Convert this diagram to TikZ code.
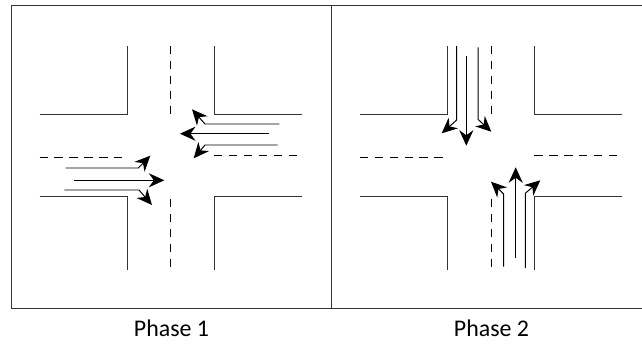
\documentclass[tikz,border=0pt]{standalone}
\usepackage{fontspec}
\setmainfont{Carlito}
\usepackage{tikz}
\usetikzlibrary{arrows.meta}
\tikzset{
road/.style={line width=0.7pt,draw=black!80},
lane/.style={line width=0.7pt,dash pattern=on 6pt off 4.6pt},
flow/.style={line width=0.7pt,-{Stealth[length=11pt,width=10pt]}},
phaselabel/.style={anchor=base,font=\fontsize{17}{20}\selectfont}
}
\begin{document}
\begin{tikzpicture}[x=0.025cm,y=-0.025cm]
\useasboundingbox (0,0) rectangle (642,343);
\draw[road] (642,5) -- (11,5) -- (11,308) -- (642,308);
\draw[road] (331,5) -- (331,308);
\begin{scope}
\draw[road] (39.5,114.3) -- (127,114.3) -- (127,46);
\draw[road] (302,114.3) -- (214.3,114.3) -- (214.3,46);
\draw[road] (39.5,196.7) -- (127,196.7) -- (127,269.7);
\draw[road] (302,196.7) -- (214.3,196.7) -- (214.3,269.7);
\draw[lane] (170.7,46) -- (170.7,114);
\draw[lane] (170.7,199) -- (170.7,267);
\draw[lane] (39.5,157.7) -- (125.7,157.7);
\draw[lane] (214,155.7) -- (299,155.7);
\draw[flow] (65.7,168) -- (138.3,168) -- (150.3,155.7);
\draw[flow] (74.3,180.3) -- (164.3,180.3);
\draw[flow] (64.3,190) -- (139,190) -- (152,205);
\draw[flow] (279.3,124) -- (205,124) -- (192,109.3);
\draw[flow] (269,133.7) -- (180,133.7);
\draw[flow] (277.7,145) -- (205,145) -- (193.7,158.3);
\end{scope}
\begin{scope}[shift={(320.3,0)}]
\draw[road] (39.5,114.3) -- (127,114.3) -- (127,46);
\draw[road] (302,114.3) -- (214.3,114.3) -- (214.3,46);
\draw[road] (39.5,196.7) -- (127,196.7) -- (127,269.7);
\draw[road] (302,196.7) -- (214.3,196.7) -- (214.3,269.7);
\draw[lane] (170.7,46) -- (170.7,114);
\draw[lane] (170.7,199) -- (170.7,267);
\draw[lane] (39.5,157.7) -- (125.7,157.7);
\draw[lane] (214,155.7) -- (299,155.7);
\draw[flow] (136.4,46) -- (136.4,120) -- (121.4,133.3);
\draw[flow] (146,56) -- (146,145.7);
\draw[flow] (157.7,47.3) -- (157.7,119.3) -- (171,131.7);
\draw[flow] (183.4,266.7) -- (183.4,194) -- (170.7,181.7);
\draw[flow] (195.4,257.7) -- (195.4,167.3);
\draw[flow] (205,268) -- (205,193.3) -- (220,180.3);
\end{scope}
\node[phaselabel] (phaseone) at (171.5,336) {Phase 1};
\node[phaselabel] (phasetwo) at (491.5,336) {Phase 2};
\end{tikzpicture}
\end{document}
